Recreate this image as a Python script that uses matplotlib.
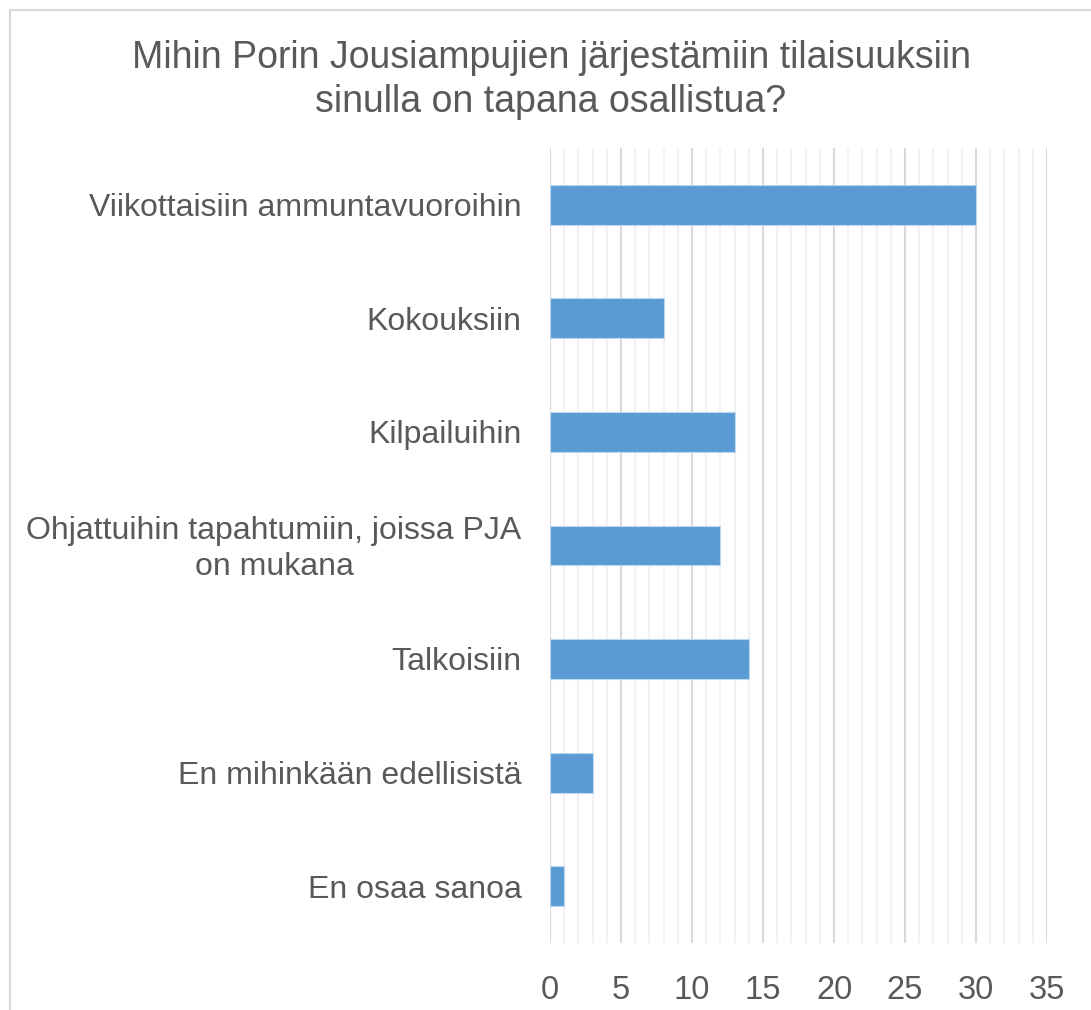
import matplotlib.pyplot as plt
from matplotlib.patches import Rectangle
from matplotlib.ticker import MultipleLocator

plt.rcParams['font.family'] = ['Liberation Sans', 'DejaVu Sans']

# data
categories = ['Viikottaisiin ammuntavuoroihin', 'Kokouksiin', 'Kilpailuihin',
              'Ohjattuihin tapahtumiin, joissa PJA\non mukana', 'Talkoisiin',
              'En mihinkään edellisistä', 'En osaa sanoa']
values = [30, 8, 13, 12, 14, 3, 1]
title = 'Mihin Porin Jousiampujien järjestämiin tilaisuuksiin\nsinulla on tapana osallistua?'

txt = '#595959'
fig = plt.figure(figsize=(10.91, 10.10), dpi=100)
fig.patches.append(Rectangle((10 / 1091, -0.01), 1.02, 1 - 10 / 1010 + 0.01, transform=fig.transFigure,
                             fill=False, edgecolor='#D9D9D9', linewidth=1.5))
ax = fig.add_axes([550 / 1091, 1 - 943 / 1010, 497 / 1091, 795 / 1010])

pos = list(range(len(categories)))[::-1]
ax.barh(pos, values, height=0.35, color='#5B9BD5', edgecolor='#BDD7EE', linewidth=0.8, zorder=3)
ax.set_ylim(-0.5, len(categories) - 0.5)
ax.set_xlim(0, 35)
ax.xaxis.set_major_locator(MultipleLocator(5))
ax.xaxis.set_minor_locator(MultipleLocator(1))
ax.grid(axis='x', which='major', color='#D9D9D9', linewidth=1.5, zorder=0)
ax.grid(axis='x', which='minor', color='#F2F2F2', linewidth=1.5, zorder=0)
for s in ax.spines.values():
    s.set_visible(False)
ax.tick_params(axis='x', which='both', length=0, labelsize=23.5, labelcolor=txt, pad=23)
ax.tick_params(axis='y', length=0, labelsize=0)
ax.set_yticks(pos)
ax.set_yticklabels([])
for p, c in zip(pos, categories):
    ax.text(-2.0, p - 0.03, c, ha='right', va='center', multialignment='center',
            fontsize=23, color=txt, linespacing=1.25, transform=ax.transData)

fig.text(551 / 1091, 1 - 80 / 1010, title, ha='center', va='center', fontsize=27,
         color=txt, linespacing=1.25)

fig.savefig('out.png', dpi=100)
